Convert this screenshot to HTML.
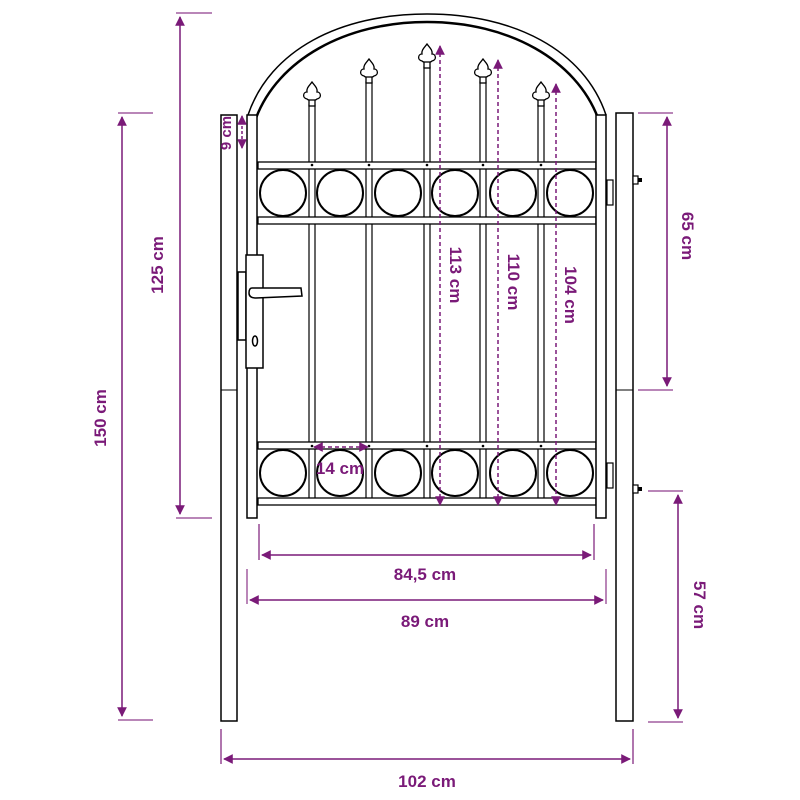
<!DOCTYPE html>
<html><head><meta charset="utf-8"><style>
html,body{margin:0;padding:0;background:#fff}
svg{display:block}
text{font-family:"Liberation Sans",sans-serif;font-weight:bold;fill:#7a1a78;font-size:17px}
</style></head><body>
<svg width="800" height="800" viewBox="0 0 800 800" xmlns="http://www.w3.org/2000/svg">
<defs>
<g id="fin" fill="#fff" stroke="#000" stroke-width="1.3">
<path d="M0,0 C-2,3 -6,6 -5,10 C-9,10 -10,16 -5,17 C-3,19 3,19 5,17 C10,16 9,10 5,10 C6,6 2,3 0,0Z"/>
<rect x="-3" y="18" width="6" height="6"/>
</g>
<marker id="a" viewBox="0 0 10 10" refX="9" refY="5" markerWidth="6.5" markerHeight="6.5" orient="auto-start-reverse"><path d="M0,0 L10,5 L0,10Z" fill="#7a1a78"/></marker>
<marker id="s" viewBox="0 0 10 10" refX="9" refY="5" markerWidth="6.5" markerHeight="6.5" orient="auto-start-reverse"><path d="M0,0 L10,5 L0,10Z" fill="#7a1a78"/></marker>
</defs>

<path d="M248,115 C270,50 340,14 427,14 C514,14 584,50 606,115" fill="none" stroke="#000" stroke-width="1.5"/>
<path d="M256,118 C278,60 345,22 427,22 C509,22 576,60 598,118" fill="none" stroke="#000" stroke-width="2.5"/>

<g fill="#fff" stroke="#000" stroke-width="1.2">
<rect x="309" y="105" width="6" height="398"/>
<rect x="366" y="82" width="6" height="421"/>
<rect x="424" y="67" width="6" height="436"/>
<rect x="480" y="82" width="6" height="421"/>
<rect x="538" y="105" width="6" height="398"/>
</g>
<use href="#fin" x="312" y="82"/>
<use href="#fin" x="369" y="59"/>
<use href="#fin" x="427" y="44"/>
<use href="#fin" x="483" y="59"/>
<use href="#fin" x="541" y="82"/>

<g fill="#fff" stroke="#000" stroke-width="1.3">
<rect x="258" y="162" width="338" height="7"/>
<rect x="258" y="217" width="338" height="7"/>
<rect x="258" y="442" width="338" height="7"/>
<rect x="258" y="498" width="338" height="7"/>
</g>
<g fill="none" stroke="#000" stroke-width="2">
<ellipse cx="283" cy="193" rx="23" ry="23"/><ellipse cx="340" cy="193" rx="23" ry="23"/><ellipse cx="398" cy="193" rx="23" ry="23"/><ellipse cx="455" cy="193" rx="23" ry="23"/><ellipse cx="513" cy="193" rx="23" ry="23"/><ellipse cx="570" cy="193" rx="23" ry="23"/>
<ellipse cx="283" cy="473" rx="23" ry="23"/><ellipse cx="340" cy="473" rx="23" ry="23"/><ellipse cx="398" cy="473" rx="23" ry="23"/><ellipse cx="455" cy="473" rx="23" ry="23"/><ellipse cx="513" cy="473" rx="23" ry="23"/><ellipse cx="570" cy="473" rx="23" ry="23"/>
</g>
<g fill="#000"><circle cx="312" cy="165" r="1.3"/><circle cx="369" cy="165" r="1.3"/><circle cx="427" cy="165" r="1.3"/><circle cx="483" cy="165" r="1.3"/><circle cx="541" cy="165" r="1.3"/>
<circle cx="312" cy="446" r="1.3"/><circle cx="369" cy="446" r="1.3"/><circle cx="427" cy="446" r="1.3"/><circle cx="483" cy="446" r="1.3"/><circle cx="541" cy="446" r="1.3"/></g>

<g fill="#fff" stroke="#000" stroke-width="1.5">
<rect x="247" y="115" width="10" height="403"/>
<rect x="596" y="115" width="10" height="403"/>
<rect x="221" y="115" width="16" height="606"/>
<rect x="616" y="113" width="17" height="608"/>
</g>
<line x1="616" y1="390" x2="633" y2="390" stroke="#000"/>
<line x1="221" y1="390" x2="237" y2="390" stroke="#000"/>
<g fill="#fff" stroke="#000" stroke-width="1.2">
<rect x="607" y="180" width="6" height="25"/><rect x="607" y="463" width="6" height="25"/>
<rect x="633" y="176" width="5" height="8"/><rect x="633" y="485" width="5" height="8"/>
</g>
<rect x="638" y="178" width="4" height="4" fill="#000"/><rect x="638" y="487" width="4" height="4" fill="#000"/>
<g fill="#fff" stroke="#000" stroke-width="1.5">
<rect x="238" y="272" width="8" height="68"/>
<rect x="246" y="255" width="17" height="113"/>
<path d="M252,288 L301,288 L302,296 L256,298 Q249,298 249,293 Q249,288 252,288Z"/>
</g>
<ellipse cx="255" cy="341" rx="2.5" ry="5" fill="none" stroke="#000" stroke-width="1.5"/>

<g stroke="#7a1a78" stroke-width="1.5" fill="none">
<line x1="118" y1="113" x2="153" y2="113" opacity=".7"/><line x1="118" y1="720" x2="153" y2="720" opacity=".7"/>
<line x1="122" y1="117" x2="122" y2="716" marker-start="url(#a)" marker-end="url(#a)"/>
<line x1="176" y1="13" x2="212" y2="13" opacity=".7"/><line x1="176" y1="518" x2="212" y2="518" opacity=".7"/>
<line x1="180" y1="17" x2="180" y2="514" marker-start="url(#a)" marker-end="url(#a)"/>
<line x1="242" y1="116" x2="242" y2="148" stroke-dasharray="3,2" marker-start="url(#s)" marker-end="url(#s)"/>
<line x1="440" y1="46" x2="440" y2="505" stroke-dasharray="4,3" marker-start="url(#s)" marker-end="url(#s)"/>
<line x1="498" y1="60" x2="498" y2="505" stroke-dasharray="4,3" marker-start="url(#s)" marker-end="url(#s)"/>
<line x1="556" y1="84" x2="556" y2="505" stroke-dasharray="4,3" marker-start="url(#s)" marker-end="url(#s)"/>
<line x1="314" y1="447" x2="368" y2="447" stroke-dasharray="4,3" marker-start="url(#s)" marker-end="url(#s)"/>
<line x1="638" y1="113" x2="673" y2="113" opacity=".7"/><line x1="638" y1="390" x2="673" y2="390" opacity=".7"/>
<line x1="667" y1="117" x2="667" y2="386" marker-start="url(#a)" marker-end="url(#a)"/>
<line x1="648" y1="491" x2="683" y2="491" opacity=".7"/><line x1="648" y1="722" x2="683" y2="722" opacity=".7"/>
<line x1="678" y1="495" x2="678" y2="718" marker-start="url(#a)" marker-end="url(#a)"/>
<line x1="259" y1="524" x2="259" y2="560" opacity=".8"/><line x1="594" y1="524" x2="594" y2="560" opacity=".8"/>
<line x1="262" y1="555" x2="591" y2="555" marker-start="url(#a)" marker-end="url(#a)"/>
<line x1="247" y1="569" x2="247" y2="604" opacity=".7"/><line x1="606" y1="569" x2="606" y2="604" opacity=".7"/>
<line x1="250" y1="600" x2="603" y2="600" marker-start="url(#a)" marker-end="url(#a)"/>
<line x1="221" y1="729" x2="221" y2="764" opacity=".8"/><line x1="633" y1="729" x2="633" y2="764" opacity=".8"/>
<line x1="224" y1="759" x2="630" y2="759" marker-start="url(#a)" marker-end="url(#a)"/>
</g>

<text x="425" y="580" text-anchor="middle">84,5 cm</text>
<text x="425" y="627" text-anchor="middle">89 cm</text>
<text x="427" y="787" text-anchor="middle">102 cm</text>
<text x="340" y="474" text-anchor="middle">14 cm</text>
<text transform="translate(106,418) rotate(-90)" text-anchor="middle">150 cm</text>
<text transform="translate(163,265) rotate(-90)" text-anchor="middle">125 cm</text>
<text transform="translate(231,133) rotate(-90)" text-anchor="middle" style="font-size:15px">9 cm</text>
<text transform="translate(450,275) rotate(90)" text-anchor="middle">113 cm</text>
<text transform="translate(508,282) rotate(90)" text-anchor="middle">110 cm</text>
<text transform="translate(565,295) rotate(90)" text-anchor="middle">104 cm</text>
<text transform="translate(682,236) rotate(90)" text-anchor="middle">65 cm</text>
<text transform="translate(694,605) rotate(90)" text-anchor="middle">57 cm</text>
</svg>
</body></html>
